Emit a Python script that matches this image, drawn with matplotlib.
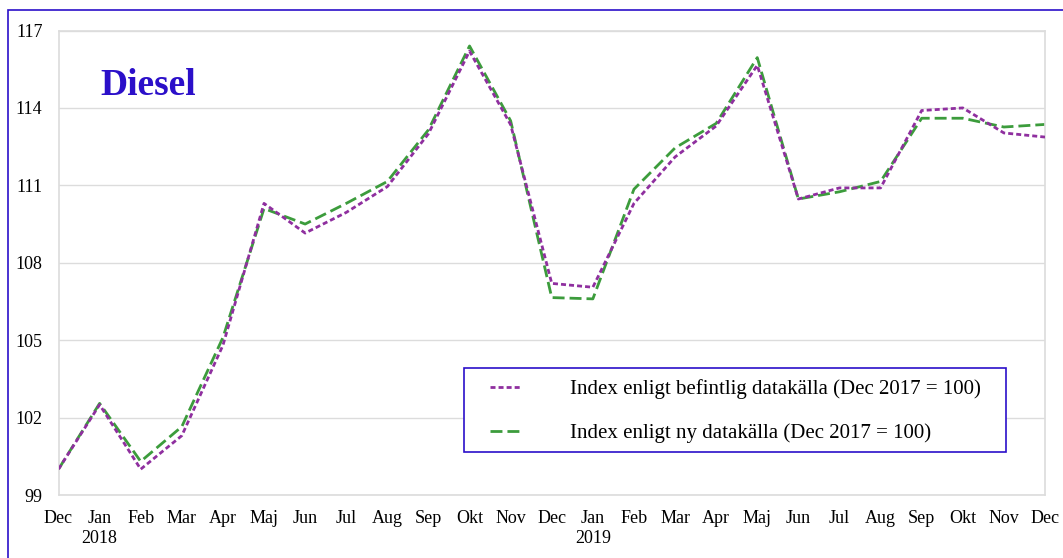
import matplotlib
matplotlib.use('Agg')
import matplotlib.pyplot as plt
from matplotlib.patches import Rectangle

# Data (index, Dec 2017 = 100)
manader = ['Dec', 'Jan\n2018', 'Feb', 'Mar', 'Apr', 'Maj', 'Jun', 'Jul', 'Aug', 'Sep', 'Okt', 'Nov',
           'Dec', 'Jan\n2019', 'Feb', 'Mar', 'Apr', 'Maj', 'Jun', 'Jul', 'Aug', 'Sep', 'Okt', 'Nov', 'Dec']
index_befintlig = [100.0, 102.5, 100.0, 101.3, 104.8, 110.3, 109.15, 109.95, 110.95, 113.0, 116.2, 113.35,
                   107.2, 107.05, 110.3, 112.1, 113.3, 115.65, 110.47, 110.9, 110.9, 113.9, 114.0, 113.03, 112.87]
index_ny = [100.0, 102.55, 100.3, 101.65, 105.1, 110.1, 109.5, 110.3, 111.15, 113.15, 116.4, 113.5,
            106.65, 106.6, 110.85, 112.45, 113.4, 115.95, 110.47, 110.75, 111.15, 113.6, 113.6, 113.26, 113.36]
y_ticks = [99, 102, 105, 108, 111, 114, 117]

lila = '#8F2F9F'
gron = '#3C9C3C'
bla = '#2B0FC9'
grid_farg = '#DCDCDC'

plt.rcParams['font.family'] = ['Liberation Serif', 'DejaVu Serif']

fig = plt.figure(figsize=(10.63, 5.58), dpi=100)
ax = fig.add_axes([58.5 / 1063, 1 - 495 / 558, 986.5 / 1063, 464.5 / 558])

x = list(range(len(manader)))
ax.plot(x, index_befintlig, color=lila, linewidth=2.0, dashes=(1.8, 1.1),
        label='Index enligt befintlig datakälla (Dec 2017 = 100)', zorder=3)
ax.plot(x, index_ny, color=gron, linewidth=2.0, dashes=(4.3, 1.8),
        label='Index enligt ny datakälla (Dec 2017 = 100)', zorder=2)

ax.set_xlim(0, len(manader) - 1)
ax.set_ylim(y_ticks[0], y_ticks[-1])
ax.set_yticks(y_ticks)
ax.set_xticks(x)
ax.set_xticklabels(manader)
ax.set_xticks([12], minor=True)
ax.tick_params(axis='both', which='both', length=0, labelsize=13, colors='#000000')
ax.tick_params(axis='y', pad=11.5)
ax.tick_params(axis='x', pad=11)

ax.grid(axis='y', color=grid_farg, linewidth=1.0)
ax.grid(axis='x', which='minor', color=grid_farg, linewidth=1.0)
ax.set_axisbelow(True)
for sp in ax.spines.values():
    sp.set_color(grid_farg)
    sp.set_linewidth(1.2)

ax.text(0.042, 0.882, 'Diesel', transform=ax.transAxes, fontsize=27, fontweight='bold',
        color=bla, ha='left', va='center')

# legendruta ritas separat
ax.add_patch(Rectangle((464 / 1063, 1 - 452 / 558), 542 / 1063, 84 / 558, transform=fig.transFigure,
                       facecolor='white', edgecolor=bla, linewidth=1.2, zorder=4, clip_on=False))
leg = ax.legend(loc='upper left', bbox_to_anchor=(490 / 1063, 1 - 379 / 558),
                bbox_transform=fig.transFigure, fontsize=15, frameon=False,
                borderaxespad=0, borderpad=0, handlelength=1.55,
                handletextpad=2.3, labelspacing=1.17)
leg.set_zorder(5)

# blå ram runt hela bilden
fig.add_artist(Rectangle((8 / 1063, -0.1), 1.2, 1.1 - 10.5 / 558, transform=fig.transFigure,
                         fill=False, edgecolor=bla, linewidth=1.2))

fig.savefig('out.png', dpi=100)
